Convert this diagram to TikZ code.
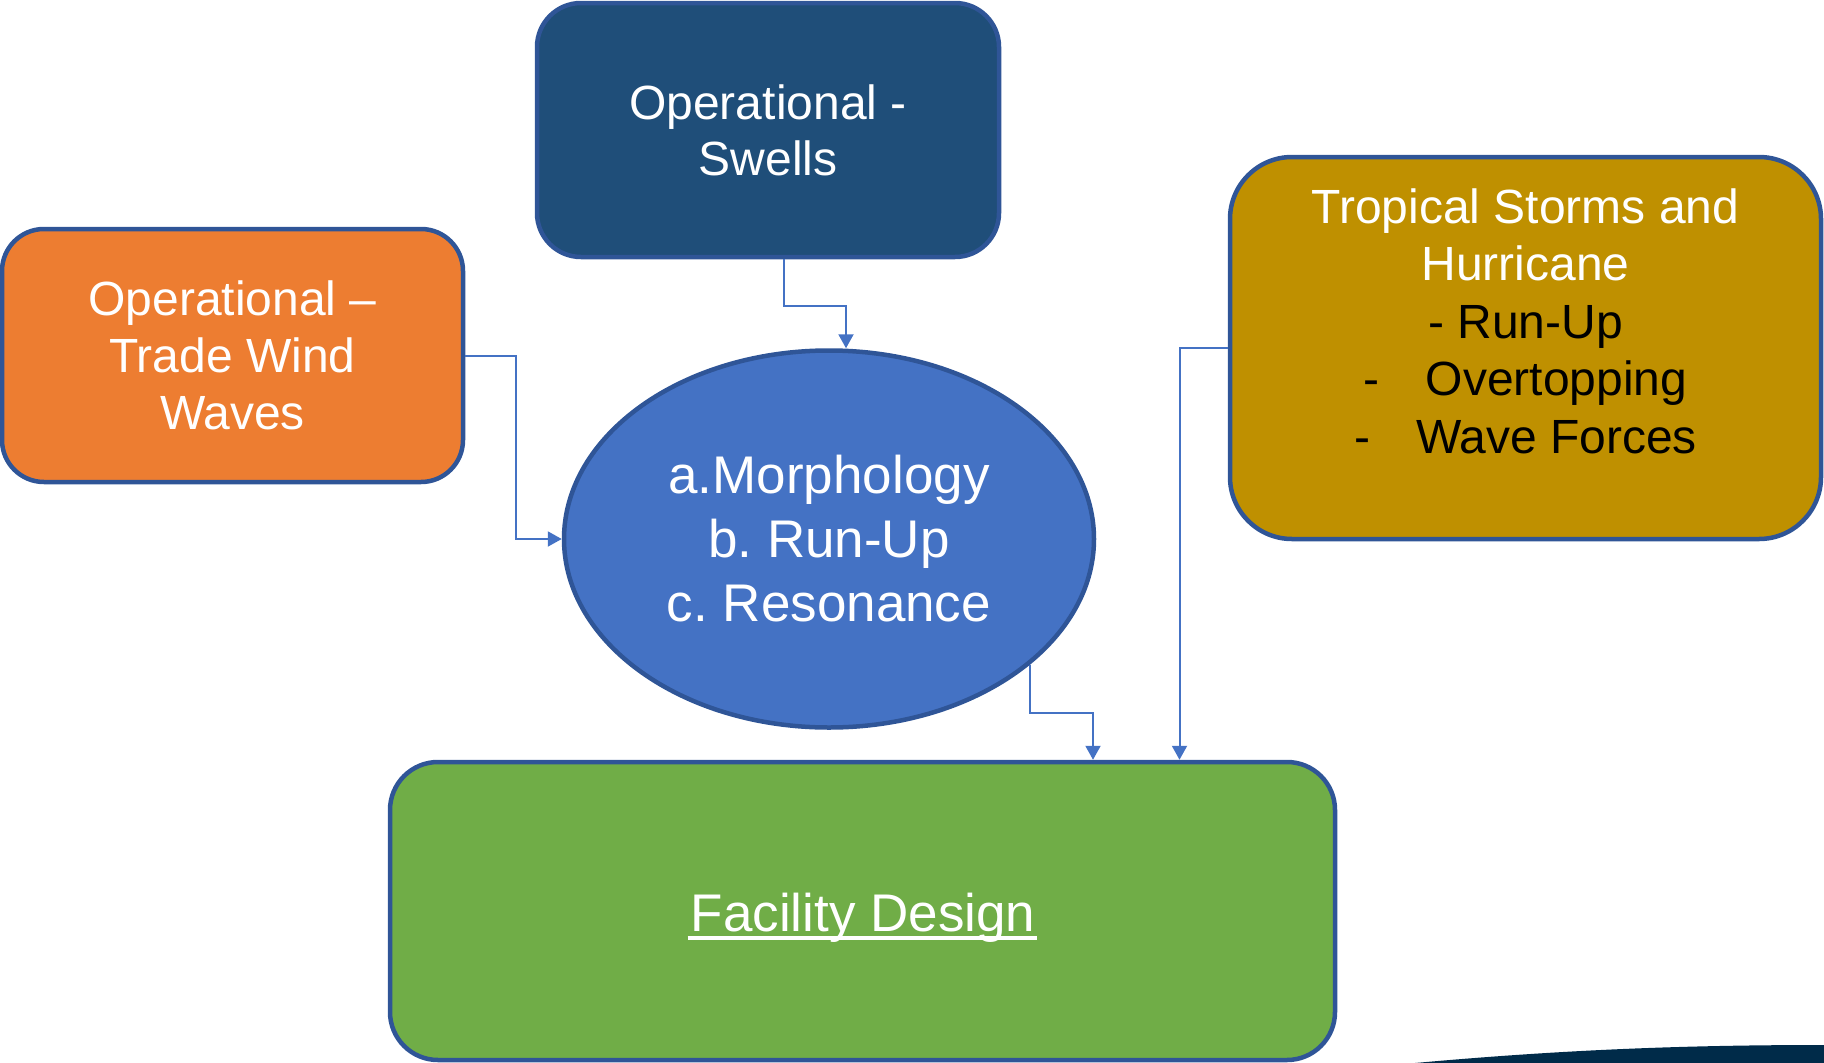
\documentclass[tikz,border=0pt]{standalone}
\usepackage{fontspec}
\setmainfont{Liberation Sans}
\frenchspacing
\usetikzlibrary{arrows.meta,calc,shapes.geometric}
\definecolor{bordc}{HTML}{2F5597}
\definecolor{swellc}{HTML}{1F4E79}
\definecolor{orangec}{HTML}{ED7D31}
\definecolor{ellc}{HTML}{4472C4}
\definecolor{tropc}{HTML}{BF9000}
\definecolor{greenc}{HTML}{70AD47}
\definecolor{connc}{HTML}{4472C4}
\definecolor{navyc}{HTML}{002B49}
\begin{document}
\begin{tikzpicture}[x=1pt,y=-1pt,
  boxst/.style={draw=bordc,line width=4.5pt,inner sep=0pt,align=center,text=white},
  conn/.style={draw=connc,line width=2pt,-{Triangle[width=15pt,length=14pt]}},
  txtA/.style={font=\fontsize{48}{56}\selectfont},
  txtO/.style={font=\fontsize{48}{57}\selectfont},
  txtB/.style={font=\fontsize{53}{64}\selectfont}]
\useasboundingbox (0,0) rectangle (1824,1063);
% decorative swoosh
\fill[navyc] (1415,1063) .. controls (1560,1050) and (1680,1045) .. (1824,1045) -- (1824,1063) -- cycle;
% nodes
\node[boxst,fill=swellc,rounded corners=44pt,minimum width=462pt,minimum height=254pt,txtA]
  (sw) at (768,130) {Operational -\\Swells};
\node[boxst,fill=orangec,rounded corners=42pt,minimum width=461pt,minimum height=253pt,txtO]
  (or) at (232.5,355.5) {Operational --\\Trade Wind\\Waves};
\node[boxst,fill=ellc,ellipse,minimum width=530pt,minimum height=377pt,txtB]
  (ell) at (829,539) {a.Morphology\\b. Run-Up\\c. Resonance};
\node[boxst,fill=tropc,rounded corners=62pt,minimum width=591pt,minimum height=382pt]
  (trop) at (1525.5,348) {};
\node[inner sep=0pt,align=center,font=\fontsize{48}{57.5}\selectfont,text=white]
  (tropt) at (1525.5,321) {Tropical Storms and\\Hurricane\\
  \textcolor{black}{- Run-Up}\\
  \textcolor{black}{-\hspace{46pt}Overtopping}\\
  \textcolor{black}{-\hspace{46pt}Wave Forces}};
\node[boxst,fill=greenc,rounded corners=48pt,minimum width=945pt,minimum height=298pt]
  (fac) at (862.5,911) {};
\node[inner sep=0pt,anchor=base,text=white,font=\fontsize{53}{63}\selectfont]
  (fact) at (863,931) {Facility Design};
\draw[white,line width=3.5pt] ([xshift=-3pt,yshift=-7pt]fact.base west) -- ([xshift=1pt,yshift=-7pt]fact.base east);
% connectors
\draw[conn] ([xshift=16pt]sw.south) -- ++(0,47) -| ([xshift=17pt]ell.north);
\draw[conn] (or.east) -- ++(51,0) |- (ell.west);
\draw[conn] (ell.-32) -- ++(0,48) -| ([xshift=230.5pt]fac.north);
\draw[conn] (trop.west) -| ([xshift=317pt]fac.north);
\end{tikzpicture}
\end{document}
